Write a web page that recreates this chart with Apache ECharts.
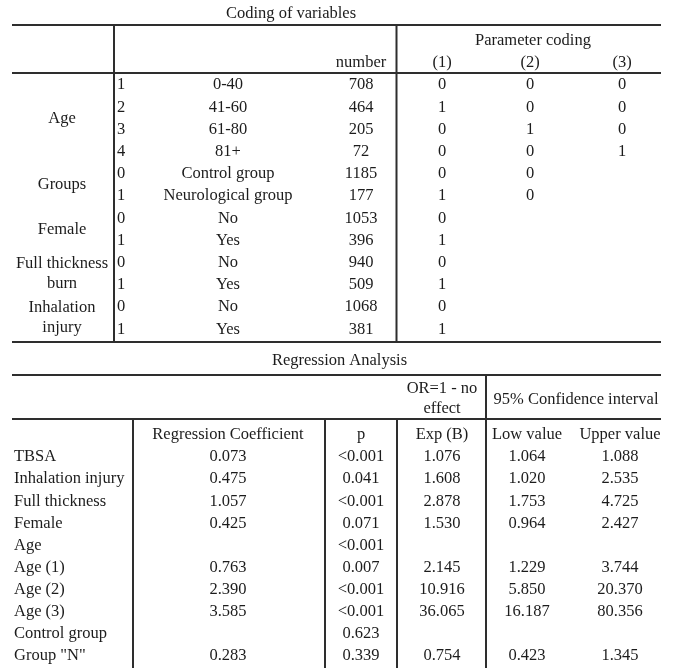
<!DOCTYPE html>
<html>
<head>
<meta charset="utf-8">
<script src="https://cdn.jsdelivr.net/npm/echarts@6/dist/echarts.min.js"></script>
<style>
html,body{margin:0;padding:0;background:#fff;}
#chart{width:679px;height:668px;}
</style>
</head>
<body>
<div id="chart"></div>
<script>
// ---------- Data: Coding of variables ----------
const codingTitle = "Coding of variables";
const codingHeader = ["number", "Parameter coding", "(1)", "(2)", "(3)"];
const varGroups = ["Age", "Groups", "Female", "Full thickness\nburn", "Inhalation\ninjury"];
const varGroupRows = [[0, 3], [4, 5], [6, 7], [8, 9], [10, 11]];
const varCodes = ["1", "2", "3", "4", "0", "1", "0", "1", "0", "1", "0", "1"];
const varLevels = ["0-40", "41-60", "61-80", "81+", "Control group", "Neurological group", "No", "Yes", "No", "Yes", "No", "Yes"];
const varNumbers = [708, 464, 205, 72, 1185, 177, 1053, 396, 940, 509, 1068, 381];
const paramCoding1 = [0, 1, 0, 0, 0, 1, 0, 1, 0, 1, 0, 1];
const paramCoding2 = [0, 0, 1, 0, 0, 0, null, null, null, null, null, null];
const paramCoding3 = [0, 0, 0, 1, null, null, null, null, null, null, null, null];

// ---------- Data: Regression Analysis ----------
const regTitle = "Regression Analysis";
const regHeaderTop = ["OR=1 - no\neffect", "95% Confidence interval"];
const regHeader = ["Regression Coefficient", "p", "Exp (B)", "Low value", "Upper value"];
const regLabels = ["TBSA", "Inhalation injury", "Full thickness", "Female", "Age", "Age (1)", "Age (2)", "Age (3)", "Control group", "Group \"N\""];
const regCoef = ["0.073", "0.475", "1.057", "0.425", "", "0.763", "2.390", "3.585", "", "0.283"];
const regP = ["<0.001", "0.041", "<0.001", "0.071", "<0.001", "0.007", "<0.001", "<0.001", "0.623", "0.339"];
const regExpB = ["1.076", "1.608", "2.878", "1.530", "", "2.145", "10.916", "36.065", "", "0.754"];
const regLow = ["1.064", "1.020", "1.753", "0.964", "", "1.229", "5.850", "16.187", "", "0.423"];
const regUpper = ["1.088", "2.535", "4.725", "2.427", "", "3.744", "20.370", "80.356", "", "1.345"];

// ---------- Layout ----------
const FONT = "'Liberation Serif', 'Times New Roman', serif";
const FS = 16.5;
const TXT = "#1c1c1c";
const LINE = "#2e2e2e";
const LW = 2;
const L = 12, R = 661;

const els = [];
function text(str, x, y, align) {
  if (str === null || str === undefined || str === "") return;
  els.push({
    type: "text", x: x, y: y, silent: true,
    style: { text: String(str), font: FS + "px " + FONT, fill: TXT,
             textAlign: align || "center", textVerticalAlign: "middle", lineHeight: 20 }
  });
}
function hline(y, x1, x2) {
  els.push({ type: "line", silent: true, shape: { x1: x1, y1: y, x2: x2, y2: y },
             style: { stroke: LINE, lineWidth: LW } });
}
function vline(x, y1, y2) {
  els.push({ type: "line", silent: true, shape: { x1: x, y1: y1, x2: x, y2: y2 },
             style: { stroke: LINE, lineWidth: LW } });
}

// Top table
const topRow0 = 85, topStep = 22.2;
const colCode = 117, colLevel = 228, colNum = 361, colP1 = 442, colP2 = 530, colP3 = 622, colGroup = 62;
text(codingTitle, 291, 14);
hline(25, L, R);
hline(73, L, R);
hline(342, L, R);
vline(114, 25, 342);
vline(396.5, 25, 342);
text(codingHeader[0], colNum, 63);
text(codingHeader[1], 533, 41);
text(codingHeader[2], colP1, 63);
text(codingHeader[3], colP2, 63);
text(codingHeader[4], colP3, 63);
varLevels.forEach(function (lv, i) {
  const y = topRow0 + topStep * i;
  text(varCodes[i], colCode, y, "left");
  text(lv, colLevel, y);
  text(varNumbers[i], colNum, y);
  text(paramCoding1[i], colP1, y);
  text(paramCoding2[i], colP2, y);
  text(paramCoding3[i], colP3, y);
});
varGroups.forEach(function (g, k) {
  const r = varGroupRows[k];
  const y = topRow0 + topStep * (r[0] + r[1]) / 2;
  text(g, colGroup, y);
});

// Regression table
const regRow0 = 457, regStep = 22.1;
const cLab = 14, cCoef = 228, cP = 361, cExp = 442, cLow = 527, cUp = 620;
text(regTitle, 339.5, 361);
hline(375, L, R);
hline(419, L, R);
vline(486, 375, 668);
vline(133, 419, 668);
vline(325, 419, 668);
vline(397, 419, 668);
text(regHeaderTop[0], cExp, 399);
text(regHeaderTop[1], 576, 400);
text(regHeader[0], cCoef, 435);
text(regHeader[1], cP, 435);
text(regHeader[2], cExp, 435);
text(regHeader[3], cLow, 435);
text(regHeader[4], cUp, 435);
regLabels.forEach(function (lab, i) {
  const y = regRow0 + regStep * i;
  text(lab, cLab, y, "left");
  text(regCoef[i], cCoef, y);
  text(regP[i], cP, y);
  text(regExpB[i], cExp, y);
  text(regLow[i], cLow, y);
  text(regUpper[i], cUp, y);
});

const chart = echarts.init(document.getElementById("chart"), null, { renderer: "canvas" });
chart.setOption({
  backgroundColor: "#ffffff",
  animation: false,
  graphic: { elements: els }
});
</script>
</body>
</html>
